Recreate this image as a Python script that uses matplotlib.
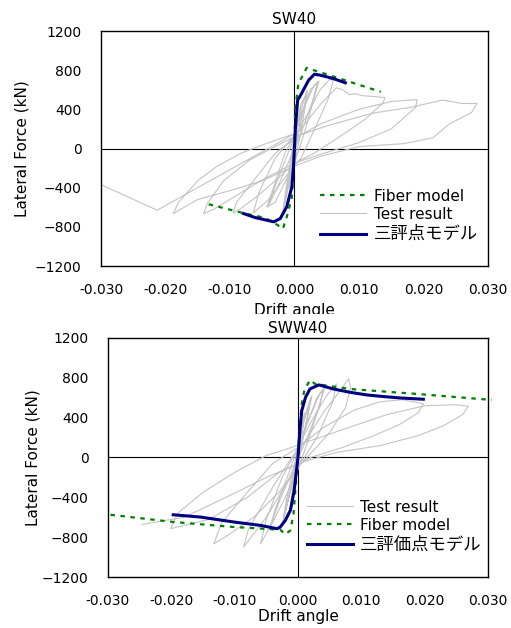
import numpy as np
import matplotlib.pyplot as plt
from matplotlib.patches import Rectangle

plt.rcParams['font.family'] = ['DejaVu Sans', 'Noto Sans CJK JP']
plt.rcParams['font.size'] = 10

# ---- SW40 (top) ----
sw40_test_drift = [0, 0.0005, 0.001, 0.0007, 0.0002, -0.0004, -0.0008, -0.0005, -0.0001, 0.0004,
                   0.001, 0.002, 0.0016, 0.0008, 0.0003, -0.0005, -0.0012, -0.0018, -0.0014, -0.0006, 0,
                   0.001, 0.002, 0.0015, 0.0006, -0.0004, -0.0012, -0.0017, -0.0012, -0.0004, 0,
                   0.001, 0.0025, 0.0038, 0.003, 0.0015, 0.0, -0.0015, -0.003, -0.0043, -0.0035, -0.0015, 0,
                   0.0015, 0.003, 0.0036, 0.0028, 0.001, -0.001, -0.0028, -0.004, -0.0032, -0.0012, 0,
                   0.002, 0.004, 0.0055, 0.006, 0.0052, 0.003, 0.001, -0.0015, -0.004, -0.0064, -0.0055, -0.003, -0.001, 0.001,
                   0.004, 0.0065, 0.0075, 0.0085, 0.0095, 0.0105, 0.0125, 0.014, 0.0138, 0.011, 0.007, 0.003,
                   0, -0.003, -0.006, -0.0085, -0.0095, -0.009, -0.006, -0.003, 0,
                   0.004, 0.01, 0.015, 0.019, 0.0188, 0.015, 0.01, 0.004, 0, -0.005, -0.01, -0.0125, -0.0141,
                   -0.0135, -0.011, -0.007, -0.003, 0,
                   0.005, 0.012, 0.018, 0.023, 0.026, 0.0283, 0.0275, 0.024, 0.0215, 0.017, 0.01, 0.004, 0,
                   -0.005, -0.01, -0.015, -0.0188, -0.018, -0.015, -0.012, -0.008, -0.004, 0,
                   -0.0213, -0.0304]
sw40_test_force = [0, 250, 400, 200, 0, -200, -400, -200, 0, 250,
                   450, 580, 400, 100, -50, -250, -480, -650, -450, -100, 100,
                   400, 600, 420, 150, -150, -420, -620, -420, -100, 120,
                   350, 600, 690, 500, 150, -150, -350, -550, -600, -450, -50, 130,
                   420, 640, 680, 480, 150, -150, -420, -580, -420, -80, 110,
                   350, 600, 710, 690, 500, 180, -100, -300, -520, -660, -450, -100, 60, 200,
                   450, 620, 600, 550, 560, 540, 530, 520, 470, 300, 120, -50,
                   -150, -330, -500, -620, -660, -550, -300, -50, 100,
                   250, 400, 480, 500, 420, 200, 60, -60, -150, -320, -520, -620, -665,
                   -560, -330, -120, 20, 120,
                   230, 360, 420, 495, 460, 460, 370, 250, 110, 50, 20, -80, -180,
                   -330, -430, -520, -665, -550, -330, -180, -40, 60, 150,
                   -630, -357]

sw40_fiber_drift = [-0.0133, -0.0079, -0.0048, -0.0033, -0.0018, -0.0012, -0.0004, -0.0002, 0,
                    0.0001, 0.0006, 0.0019, 0.003, 0.0134]
sw40_fiber_force = [-569, -660, -705, -750, -820, -700, -500, -250, 0,
                    390, 660, 824, 800, 579]

sw40_tri_drift = [-0.0079, -0.0061, -0.0043, -0.0032, -0.0022, -0.0012, -0.0004, -0.00015, 0,
                  0.00016, 0.0005, 0.0011, 0.0022, 0.0031, 0.004, 0.006, 0.0079]
sw40_tri_force = [-664, -705, -732, -749, -715, -596, -391, -187, 0,
                  221, 494, 562, 698, 759, 749, 715, 671]

# ---- SWW40 (bottom) ----
sww40_test_drift = [0, 0.0005, 0.001, 0.0007, 0.0002, -0.0004, -0.001, -0.0006, -0.0001,
                    0.0008, 0.002, 0.0015, 0.0006, 0, -0.001, -0.0023, -0.0018, -0.0007, 0,
                    0.001, 0.0022, 0.0016, 0.0005, -0.0006, -0.0015, -0.0025, -0.0017, -0.0005, 0,
                    0.0015, 0.003, 0.004, 0.0032, 0.0015, 0, -0.002, -0.004, -0.0059, -0.005, -0.0025, 0,
                    0.0018, 0.0035, 0.0042, 0.0033, 0.0012, -0.0012, -0.003, -0.0045, -0.0036, -0.0014, 0,
                    0.002, 0.0045, 0.0061, 0.0055, 0.003, 0.001, -0.002, -0.005, -0.0086, -0.0078, -0.004, -0.001, 0.001,
                    0.004, 0.007, 0.008, 0.0083, 0.0075, 0.005, 0.002, 0, -0.003, -0.007, -0.0115, -0.0133,
                    -0.012, -0.008, -0.004, 0,
                    0.004, 0.009, 0.013, 0.0165, 0.0198, 0.019, 0.016, 0.012, 0.007, 0.002, -0.003, -0.008,
                    -0.014, -0.0201, -0.019, -0.015, -0.01, -0.005, -0.002, 0.002,
                    0.008, 0.014, 0.02, 0.025, 0.0269, 0.026, 0.023, 0.019, 0.013, 0.006, 0.001, -0.005,
                    -0.012, -0.018, -0.0246]
sww40_test_force = [0, 250, 450, 250, 0, -200, -400, -200, 0,
                    350, 600, 420, 120, -60, -300, -600, -420, -100, 80,
                    380, 620, 430, 130, -150, -420, -680, -450, -120, 90,
                    350, 600, 680, 480, 150, -120, -400, -650, -866, -620, -200, 100,
                    400, 650, 700, 500, 160, -180, -450, -720, -520, -150, 110,
                    350, 620, 740, 560, 200, 0, -280, -600, -900, -720, -300, 0, 150,
                    450, 700, 790, 700, 500, 250, 40, -100, -350, -600, -800, -866,
                    -650, -350, -60, 100,
                    300, 480, 560, 580, 540, 450, 330, 220, 100, 0, -150, -400,
                    -620, -715, -560, -350, -150, 20, 80, 170,
                    300, 430, 520, 530, 515, 430, 320, 220, 120, 50, -40, -200,
                    -420, -600, -672]

sww40_fiber_drift = [-0.0296, -0.0196, -0.0101, -0.0028, -0.002, -0.0012, -0.0007, -0.0003, 0,
                     0.0003, 0.0006, 0.001, 0.0019, 0.0027, 0.0082, 0.0188, 0.0306]
sww40_fiber_force = [-575, -648, -698, -725, -772, -732, -565, -231, 0,
                     338, 538, 672, 779, 739, 688, 638, 578]

sww40_tri_drift = [-0.0197, -0.0154, -0.0101, -0.0059, -0.0033, -0.0028, -0.002, -0.0012, -0.0006, -0.0003, 0,
                   0.0003, 0.0006, 0.0012, 0.0019, 0.0033, 0.0056, 0.0082, 0.0109, 0.0135, 0.0161, 0.0198]
sww40_tri_force = [-575, -598, -648, -682, -715, -698, -632, -531, -331, -164, 0,
                   271, 471, 605, 689, 729, 688, 655, 628, 612, 598, 585]

xticks = [-0.03, -0.02, -0.01, 0.0, 0.01, 0.02, 0.03]
yticks = [-1200, -800, -400, 0, 400, 800, 1200]

GRAY = '#c4c4c4'
GREEN = '#008000'
NAVY = '#000080'

fig = plt.figure(figsize=(5.11, 6.28), dpi=100)
ax1 = fig.add_axes([0.1977, 0.5764, 0.757, 0.3742])
ax2 = fig.add_axes([0.2113, 0.0812, 0.7436, 0.3806])
ax2.set_zorder(3)


def style(ax, title, titlepad, xlabelpad, ylabelpad):
    ax.axhline(0, color='black', lw=0.8, zorder=1)
    ax.axvline(0, color='black', lw=0.8, zorder=1)
    ax.set_xlim(-0.03, 0.03)
    ax.set_ylim(-1200, 1200)
    ax.set_xticks(xticks)
    ax.set_xticklabels(['%.3f' % t if t != 0 else '0.000' for t in xticks])
    ax.set_yticks(yticks)
    ax.tick_params(axis='x', length=0, pad=12.5)
    ax.tick_params(axis='y', length=0, pad=14)
    ax.set_title(title, fontsize=11, pad=titlepad)
    ax.set_xlabel('Drift angle', fontsize=11, labelpad=xlabelpad)
    ax.set_ylabel('Lateral Force (kN)', fontsize=11, labelpad=ylabelpad)
    for s in ax.spines.values():
        s.set_linewidth(1.0)


# top
ax1.plot(sw40_fiber_drift, sw40_fiber_force, color=GREEN, ls=(0, (2, 2.5)), lw=1.6, label='Fiber model', zorder=3)
ax1.plot(sw40_test_drift, sw40_test_force, color=GRAY, lw=0.8, label='Test result', zorder=2)
ax1.plot(sw40_tri_drift, sw40_tri_force, color=NAVY, lw=2.2, label='三評点モデル', zorder=4)
style(ax1, 'SW40', 5, 4, 4)
leg = ax1.legend(loc='lower right', frameon=False, fontsize=11, handlelength=3.0,
                 bbox_to_anchor=(1.01, 0.04), labelspacing=0.2, handletextpad=0.5)
leg.get_texts()[2].set_fontsize(12.5)

# bottom
ax2.plot(sww40_test_drift, sww40_test_force, color=GRAY, lw=0.8, label='Test result', zorder=2)
ax2.plot(sww40_fiber_drift, sww40_fiber_force, color=GREEN, ls=(0, (2, 2.5)), lw=1.6, label='Fiber model',
         zorder=3, clip_on=False)
ax2.plot(sww40_tri_drift, sww40_tri_force, color=NAVY, lw=2.2, label='三評価点モデル', zorder=4)
style(ax2, 'SWW40', 3.5, 0.5, 1)
leg = ax2.legend(loc='lower right', frameon=False, fontsize=11, handlelength=3.0,
                 bbox_to_anchor=(1.02, 0.04), labelspacing=0.2, handletextpad=0.5)
leg.get_texts()[2].set_fontsize(12.5)

# white mask: lower image covers the top chart's axis label
fig.add_artist(Rectangle((0, 0), 1, 1 - 314 / 628, transform=fig.transFigure,
                         facecolor='white', edgecolor='none', zorder=2))

fig.savefig('out.png', dpi=100)
